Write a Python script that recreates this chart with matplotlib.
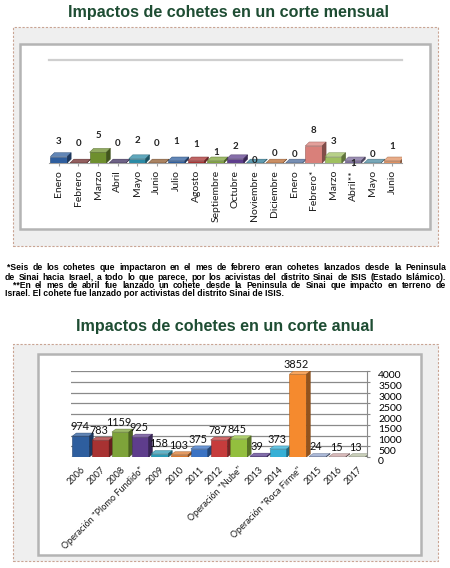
import numpy as np
import matplotlib.pyplot as plt
from matplotlib.patches import Rectangle, Polygon
from matplotlib.colors import to_rgb
from matplotlib.transforms import ScaledTranslation

# --- data: monthly chart ---
months = ["Enero", "Febrero", "Marzo", "Abril", "Mayo", "Junio", "Julio",
          "Agosto", "Septiembre", "Octubre", "Noviembre", "Diciembre",
          "Enero", "Febrero*", "Marzo", "Abril**", "Mayo", "Junio"]
monthly_vals = [3, 0, 5, 0, 2, 0, 1, 1, 1, 2, 0, 0, 0, 8, 3, 1, 0, 1]
monthly_colors = ["#2e5e9e", "#6e2a2a", "#6e8f2e", "#3e2d5e", "#2b8aa5", "#8e5a2e",
                  "#2e5e9e", "#a83232", "#7ea33a", "#5e3d8c", "#2b7a95", "#b86a30",
                  "#4a6a9a", "#d9807a", "#9fc060", "#7a6a9a", "#4a8aa0", "#e09060"]
# label offsets (points) - excel placed them a bit randomly
monthly_lbl_off = [11, 14, 12, 14, 13, 14, 14, 12, 6, 9, 2, 7, 6, 11, 11, -2, 6, 10]

# --- data: annual chart ---
years = ["2006", "2007", "2008", "Operación \"Plomo Fundido\"", "2009", "2010", "2011",
         "2012", "Operación \"Nube\"", "2013", "2014", "Operación \"Roca Firme\"",
         "2015", "2016", "2017"]
annual_vals = [974, 783, 1159, 925, 158, 103, 375, 787, 845, 39, 373, 3852, 24, 15, 13]
annual_colors = ["#2e5e9e", "#a83232", "#7ea33a", "#5e3d8c", "#2b9ab5", "#d9782d",
                 "#3b73c4", "#c63c3c", "#93bf3e", "#5b3f90", "#36b0d6", "#f58a2e",
                 "#8fa0c8", "#c8a0a0", "#b4bca0"]
annual_ticks = np.arange(0, 4001, 500)

footnote = [
    "*Seis de los cohetes que impactaron en el mes de febrero eran cohetes lanzados desde la Peninsula",
    "de Sinai hacia Israel, a todo lo que parece, por los acivistas del distrito Sinai de ISIS (Estado Islámico).",
    "**En el mes de abril fue lanzado un cohete desde la Peninsula de Sinai que impacto en terreno de",
    "Israel. El cohete fue lanzado por activistas del distrito Sinai de ISIS.",
]

W, H = 450, 568
TITLE_COLOR = "#1e4d33"
NOTE_SIZE = 6.2
plt.rcParams['font.family'] = ['Lato', 'DejaVu Sans']

fig = plt.figure(figsize=(W / 100, H / 100), dpi=100)


def fbox(x0, y0, x1, y1):
    # pixel box (top-left origin) -> figure fraction rect
    return [x0 / W, 1 - y1 / H, (x1 - x0) / W, (y1 - y0) / H]


def panel(x0, y0, x1, y1, ix0, iy0, ix1, iy1):
    l, b, w, h = fbox(x0, y0, x1, y1)
    fig.patches.append(Rectangle((l, b), w, h, transform=fig.transFigure,
                                 facecolor="#efefef", edgecolor="#c9a493",
                                 lw=0.8, ls=(0, (2, 1.5)), zorder=-2))
    l, b, w, h = fbox(ix0, iy0, ix1, iy1)
    fig.patches.append(Rectangle((l, b), w, h, transform=fig.transFigure,
                                 facecolor="white", edgecolor="#b4b4b4",
                                 lw=1.8, zorder=-1))


def shade(c, f):
    r, g, b = to_rgb(c)
    if f < 1:
        return (r * f, g * f, b * f)
    return (r + (1 - r) * (f - 1), g + (1 - g) * (f - 1), b + (1 - b) * (f - 1))


def bar3d(ax, x, h, w, color, dx, dy):
    ax.bar(x, h, w, color=color, edgecolor=shade(color, 0.7), lw=0.4, zorder=3)
    l, r = x - w / 2, x + w / 2
    ax.add_patch(Polygon([(l, h), (l + dx, h + dy), (r + dx, h + dy), (r, h)],
                         facecolor=shade(color, 1.25), edgecolor=shade(color, 0.7),
                         lw=0.3, zorder=3))
    ax.add_patch(Polygon([(r, 0), (r + dx, dy), (r + dx, h + dy), (r, h)],
                         facecolor=shade(color, 0.6), edgecolor=shade(color, 0.5),
                         lw=0.3, zorder=3))


def justify(words_line, x0, x1, y, size, renderer):
    words = words_line.split(" ")
    texts = [fig.text(0, 1 - y / H, wd, fontsize=size, fontweight="bold",
                      family="Liberation Sans", va="center", ha="left")
             for wd in words]
    widths = [t.get_window_extent(renderer).width for t in texts]
    gap = (x1 - x0 - sum(widths)) / (len(words) - 1)
    xp = x0
    for t, wd in zip(texts, widths):
        t.set_x(xp / W)
        xp += wd + gap


# --- titles and panels ---
fig.text(0.5 + 3 / W, 1 - 13 / H, "Impactos de cohetes en un corte mensual",
         ha="center", va="center", fontsize=11.6, fontweight="bold",
         family="Liberation Sans", color=TITLE_COLOR)
fig.text(0.5, 1 - 327 / H, "Impactos de cohetes en un corte anual",
         ha="center", va="center", fontsize=11.6, fontweight="bold",
         family="Liberation Sans", color=TITLE_COLOR)
panel(13, 27, 438, 246, 20, 44, 430, 229)
panel(13, 344, 438, 561, 38, 354, 421, 555)

# --- monthly chart ---
ax1 = fig.add_axes(fbox(49, 60, 402, 163))
ax1.set_facecolor("none")
xm = np.arange(len(months))
for i, v in enumerate(monthly_vals):
    bar3d(ax1, xm[i], v, 0.86, monthly_colors[i], 0.2, 1.8)
    ax1.annotate(str(v), (xm[i], v), xytext=(0, monthly_lbl_off[i]),
                 textcoords="offset points", ha="center", va="center",
                 fontsize=7, fontweight="bold", color="#222222")
ax1.set_xlim(-0.5, len(months) - 0.5)
ax1.set_ylim(0, 48)
ax1.axhline(48, color="#cfcfcf", lw=1.6, clip_on=False)
for s in ["top", "right", "left"]:
    ax1.spines[s].set_visible(False)
ax1.spines["bottom"].set_color("#a0a0a0")
ax1.set_yticks([])
ax1.set_xticks(xm)
ax1.set_xticklabels(months, rotation=90, fontsize=7.5, color="#1a1a1a")
ax1.tick_params(axis="x", length=2, color="#a0a0a0", pad=3)

# --- footnote ---
renderer = fig.canvas.get_renderer()
justify(footnote[0], 7, 446, 268, NOTE_SIZE, renderer)
justify(footnote[1], 5, 446, 277, NOTE_SIZE, renderer)
justify(footnote[2], 13, 446, 285, NOTE_SIZE, renderer)
fig.text(5 / W, 1 - 293 / H, footnote[3], fontsize=NOTE_SIZE, fontweight="bold",
         family="Liberation Sans", va="center", ha="left")

# --- annual chart ---
ax2 = fig.add_axes(fbox(71, 371, 367, 457))
ax2.set_facecolor("none")
xa = np.arange(len(years))
for yv in annual_ticks:
    ax2.axhline(yv, color="#8a8a8a", lw=0.9, zorder=1)
for i, v in enumerate(annual_vals):
    bar3d(ax2, xa[i], v, 0.86, annual_colors[i], 0.2, 140)
    ax2.annotate(str(v), (xa[i], v), xytext=(-1, 3), textcoords="offset points",
                 ha="center", va="bottom", fontsize=7.8, color="#111111")
ax2.set_xlim(-0.5, len(years) - 0.5)
ax2.set_ylim(0, 4000)
for s in ["top", "left", "bottom"]:
    ax2.spines[s].set_visible(False)
ax2.spines["right"].set_color("#8a8a8a")
ax2.yaxis.tick_right()
ax2.set_yticks(annual_ticks)
ax2.tick_params(axis="y", labelsize=7.5, length=2, color="#8a8a8a", pad=6)
shift = ScaledTranslation(0, -0.04, fig.dpi_scale_trans)
for lbl in ax2.get_yticklabels():
    lbl.set_transform(lbl.get_transform() + shift)
ax2.set_xticks(xa)
ax2.set_xticklabels(years, rotation=45, ha="right", rotation_mode="anchor",
                    fontsize=6.6, color="#1a1a1a")
ax2.tick_params(axis="x", length=0, pad=6)

fig.savefig("out.png", dpi=100)
